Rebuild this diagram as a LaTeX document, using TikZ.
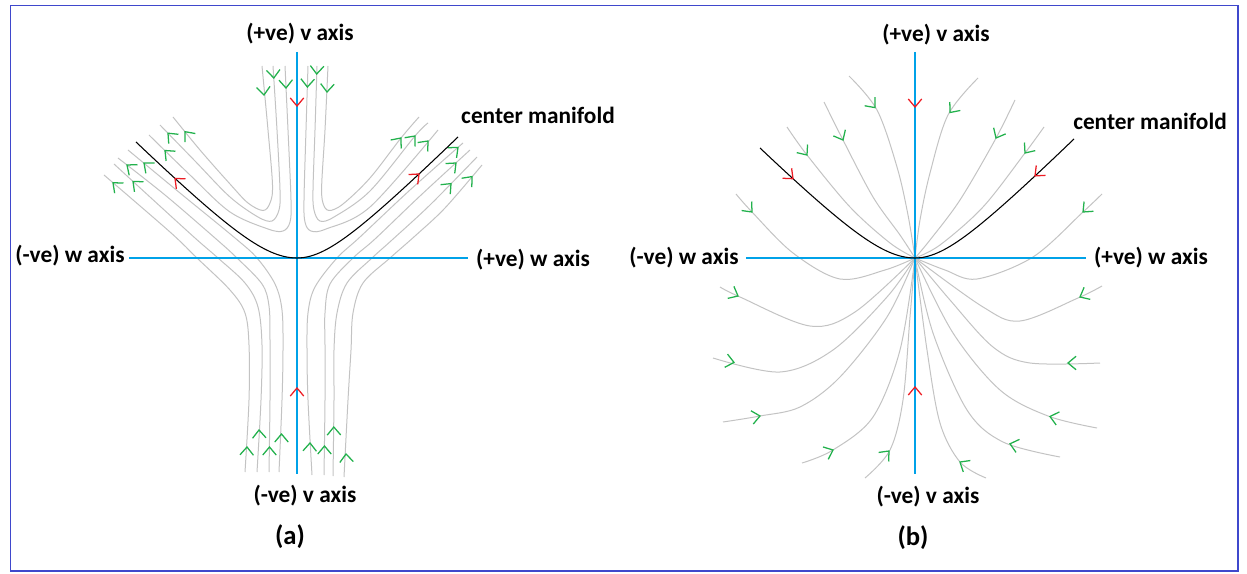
\documentclass[tikz,border=0pt]{standalone}
\usepackage{fontspec}
\setmainfont{Carlito}
\definecolor{axisblue}{HTML}{00A2E8}
\definecolor{framecol}{HTML}{3F48CC}
\definecolor{flowgray}{HTML}{C3C3C3}
\definecolor{arrgreen}{HTML}{22B14C}
\definecolor{arrred}{HTML}{ED1C24}
\tikzset{
  flow/.style={draw=flowgray, line width=0.75pt},
  axisline/.style={draw=axisblue, line width=1pt},
  manif/.style={draw=black, line width=0.8pt},
  barbline/.style={line width=0.95pt},
  lbl/.style={font=\bfseries\fontsize{17.5}{20}\selectfont, inner sep=0pt},
  sublbl/.style={font=\bfseries\fontsize{20}{24}\selectfont, inner sep=0pt},
  sm/.style={smooth,tension=0.55},
}
% \barb[colour]{x,y}{direction angle (screen, y down)}
\newcommand{\barb}[3][arrgreen]{\draw[#1,barbline] (#2) ++(#3+140:10.5) -- (#2) -- ++(#3+220:10.5);}
\begin{document}
\begin{tikzpicture}[x=0.75pt,y=-0.75pt]
\useasboundingbox (0,0) rectangle (1247,574);
\draw[framecol, line width=0.9pt] (10.5,5.5) rectangle (1238,571);

% ================= panel (a) =================
% top family, left
\draw[flow] plot[sm] coordinates {(262,66) (268,130) (272.5,185) (270,203) (263,210.5) (248,203) (230,184) (200,150) (173,117)};
\draw[flow] plot[sm] coordinates {(273,66) (277,130) (280,190) (279,210) (272,221) (258,217) (230,197) (195,161) (160,125)};
\draw[flow] plot[sm] coordinates {(285,66) (288,130) (291,200) (290,222) (283,231) (268,229) (230,212) (190,175) (149,135)};
% top family, right
\draw[flow] plot[sm] coordinates {(328,66) (325,130) (321.7,185) (323,203) (329,210.5) (343,204) (370,178) (401,138) (419,117)};
\draw[flow] plot[sm] coordinates {(317,66) (315,130) (313,190) (314,210) (320,221) (334,217) (370,191) (415,136) (428,123)};
\draw[flow] plot[sm] coordinates {(308,66) (306,130) (304,200) (305,222) (311,231) (326,229) (370,207) (438,130)};
% bottom family, left
\draw[flow] plot[sm] coordinates {(279,472) (282,400) (283,350) (282,310) (275,284) (257,258) (235,238) (180,193) (128,150)};
\draw[flow] plot[sm] coordinates {(269,472) (270,400) (270,340) (269,306) (262,284) (237,258) (215,238) (165,195) (118,158)};
\draw[flow] plot[sm] coordinates {(257,472) (261,400) (262,345) (258,307) (245,283) (218,258) (195,238) (150,197) (114,164)};
\draw[flow] plot[sm] coordinates {(245,472) (249,400) (249,345) (245,313) (230,290) (197,258) (170,232) (104,175)};
% bottom family, right
\draw[flow] plot[sm] coordinates {(312,475) (308,400) (307,350) (308,313) (315,287) (337,258) (360,237) (410,190) (463,143)};
\draw[flow] plot[sm] coordinates {(324,475) (325,400) (325,345) (325,313) (330,284) (353,258) (375,239) (420,196) (470,150)};
\draw[flow] plot[sm] coordinates {(333,476) (334,400) (334,350) (337,313) (347,283) (372,258) (392,240) (430,205) (477,157)};
\draw[flow] plot[sm] coordinates {(344,477) (348,400) (351,350) (353,313) (363,283) (390,258) (415,236) (445,208) (482,165)};

% green arrowheads (a)
\barb{264,95}{85} \barb{273.8,78}{86} \barb{286,88}{88}
\barb{185,131.7}{230} \barb{168,133.2}{226} \barb{165,150.5}{224}
\barb{327,92}{93} \barb{316.7,74}{93} \barb{307.4,87}{92}
\barb{401,138}{309} \barb{415,136}{310.5} \barb{428,141}{311.5}
\barb{281.5,434}{270} \barb{269.5,447}{270} \barb{259,430}{268} \barb{247,447}{272}
\barb{144,163}{220} \barb{127,165}{218} \barb{133,181.4}{222} \barb{113,182.8}{221}
\barb{310,443}{272} \barb{324.5,446}{270} \barb{333.8,427}{269} \barb{346,454}{266}
\barb{458,147.4}{318} \barb{456,163}{317} \barb{451,183.6}{314} \barb{472,176.6}{311}

% axes (a)
\coordinate (avT) at (297,52);
\coordinate (avB) at (297,474);
\coordinate (awL) at (129,258);
\coordinate (awR) at (468,258);
\draw[axisline] (awL) -- (awR);
\draw[axisline] (avT) -- (avB);
% centre manifold (a)
\draw[manif]
  plot[domain=-161:0, samples=50] ({297+\x}, {258-100*(sqrt((\x/100)^2+0.2884)-0.537)})
  -- plot[domain=0:161, samples=50] ({297+\x}, {258-100*(sqrt((\x/100)^2+0.2172)-0.466)});
% red arrowheads (a)
\barb[arrred]{297,106}{90} \barb[arrred]{297,388}{270}
\barb[arrred]{175,178.4}{222.5} \barb[arrred]{419,174}{317}

% labels (a)
\node[lbl] (aT) at (300,34) {(+ve) v axis};
\node[lbl] (aB) at (305,496) {(-ve) v axis};
\node[lbl] (aL) at (70,256) {(-ve) w axis};
\node[lbl] (aR) at (533,260) {(+ve) w axis};
\node[lbl] (aM) at (538,115) {center manifold};
\node[sublbl] (aCap) at (290,537) {(a)};

% ================= panel (b) =================
\coordinate (O) at (915,258);
\draw[flow] plot[sm] coordinates {(849,76) (877,110) (897,167) (908,215) (915,258)};
\draw[flow] plot[sm] coordinates {(978,78) (948,115) (930,173) (920,220) (915,258)};
\draw[flow] plot[sm] coordinates {(824,102) (843,140) (873,197) (900,235) (915,258)};
\draw[flow] plot[sm] coordinates {(1015,100) (995,140) (960,200) (930,240) (915,258)};
\draw[flow] plot[sm] coordinates {(787,127) (807,155) (850,207) (890,243) (915,258)};
\draw[flow] plot[sm] coordinates {(1044,127) (1025,153) (983,207) (940,245) (915,258)};
\draw[flow] plot[sm] coordinates {(736,194) (752,212) (793,253) (840,279) (885,270) (915,258)};
\draw[flow] plot[sm] coordinates {(1102,194) (1083,212) (1033,257) (977,279) (945,270) (915,258)};
\draw[flow] plot[sm] coordinates {(720,287) (740,297) (810,326) (855,312) (915,258)};
\draw[flow] plot[sm] coordinates {(1102,286) (1078,298) (1020,321) (983,307) (915,258)};
\draw[flow] plot[sm] coordinates {(713,358) (780,372) (833,350) (887,297) (915,258)};
\draw[flow] plot[sm] coordinates {(1100,363) (1030,363) (993,347) (950,300) (915,258)};
\draw[flow] plot[sm] coordinates {(723,422) (760,416) (800,407) (840,377) (887,317) (915,258)};
\draw[flow] plot[sm] coordinates {(1097,428) (1048,416) (1000,390) (953,333) (915,258)};
\draw[flow] plot[sm] coordinates {(802,463) (833,450) (873,417) (900,350) (915,258)};
\draw[flow] plot[sm] coordinates {(1060,457) (1003,442) (967,410) (933,333) (915,258)};
\draw[flow] plot[sm] coordinates {(865,478) (890,450) (903,400) (910,317) (915,258)};
\draw[flow] plot[sm] coordinates {(986,478) (960,462) (940,423) (927,350) (915,258)};

% green arrowheads (b)
\barb{875,107.6}{50} \barb{950,112.5}{129} \barb{843,140}{63} \barb{996,138}{117}
\barb{807,155}{53} \barb{1025,153}{127} \barb{752,212}{48} \barb{1083,212}{136}
\barb{738,296}{27} \barb{1080,297}{153} \barb{734,362.4}{12} \barb{1068,363}{180}
\barb{760,416}{350} \barb{1050,416.5}{194} \barb{833,450}{337} \barb{1010,443.8}{195}
\barb{889,451}{312} \barb{960,462}{212}

% axes (b)
\coordinate (bvT) at (915,52);
\coordinate (bvB) at (915,474);
\coordinate (bwL) at (746,258);
\coordinate (bwR) at (1086,258);
\draw[axisline] (bwL) -- (bwR);
\draw[axisline] (bvT) -- (bvB);
% centre manifold (b)
\draw[manif]
  plot[domain=-155:0, samples=50] ({915+\x}, {258-100*(sqrt((\x/100)^2+0.2938)-0.542)})
  -- plot[domain=0:159, samples=50] ({915+\x}, {258-100*(sqrt((\x/100)^2+0.2181)-0.467)});
% red arrowheads (b)
\barb[arrred]{915,107}{90} \barb[arrred]{915,387}{270}
\barb[arrred]{793,178.7}{42.4} \barb[arrred]{1035,175.9}{137}

% labels (b)
\node[lbl] (bT) at (936,35) {(+ve) v axis};
\node[lbl] (bB) at (928,497) {(-ve) v axis};
\node[lbl] (bL) at (684,258) {(-ve) w axis};
\node[lbl] (bR) at (1151,258) {(+ve) w axis};
\node[lbl] (bM) at (1150,121) {center manifold};
\node[sublbl] (bCap) at (913,538) {(b)};
\end{tikzpicture}
\end{document}
